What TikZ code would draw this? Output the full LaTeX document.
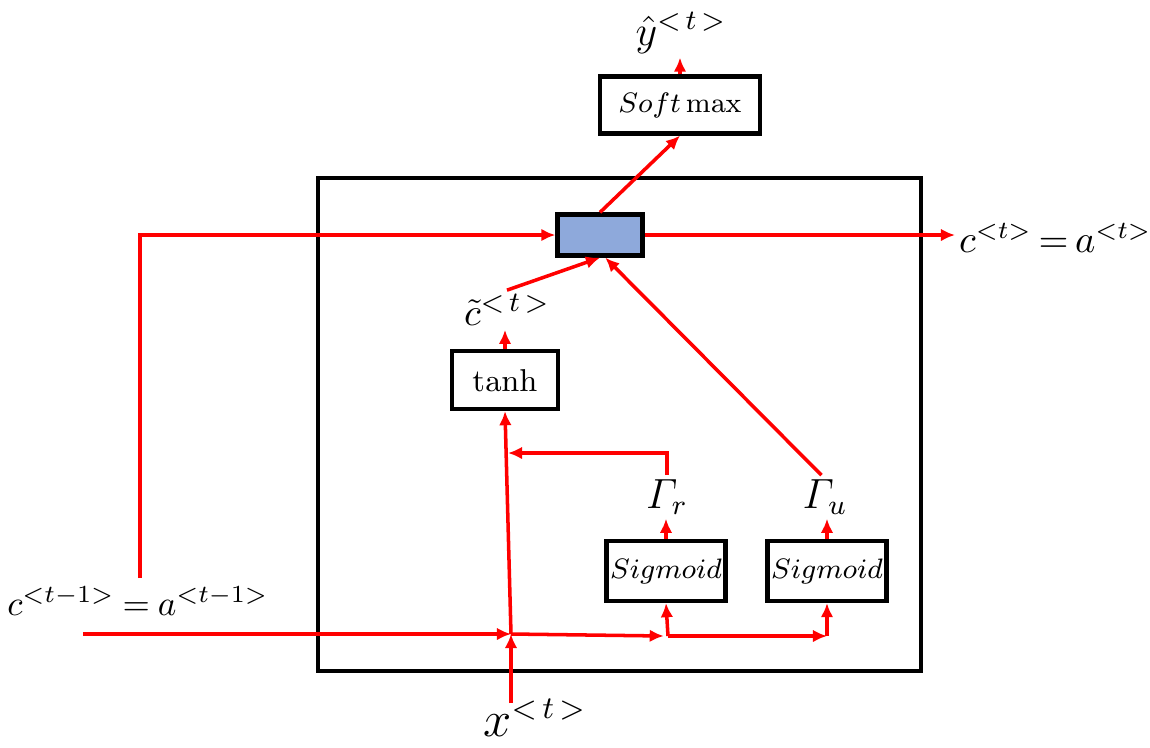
\documentclass[tikz,border=0pt]{standalone}
\usepackage{amsmath}
\usepackage{tikz}
\usetikzlibrary{arrows.meta}
\definecolor{mixblue}{RGB}{142,169,219}

\begin{document}
\begin{tikzpicture}[
    x=0.01cm, y=-0.01cm,
    box/.style={
        rectangle, draw=black, line width=1.2pt,
        fill=white, inner sep=0pt, align=center
    },
    smallbox/.style={box, font=\fontsize{7.6}{9}\selectfont},
    arrow/.style={-{Latex[length=4pt,width=3.6pt]}, line width=1pt, red},
    lbl/.style={inner sep=1pt, font=\fontsize{10.5}{13}\selectfont}
]
\useasboundingbox (0,0) rectangle (1150,747);

% cell frame
\draw[line width=1.2pt] (318,178) rectangle (921,671);

% blocks
\node[smallbox, minimum width=1.6cm, minimum height=0.57cm] (softmax) at (680,105) {$Soft\max$};
\node[box, fill=mixblue, minimum width=0.85cm, minimum height=0.41cm] (mix) at (600,235) {};
\node[box, minimum width=1.06cm, minimum height=0.58cm, font=\fontsize{9.5}{11}\selectfont] (tanh) at (505,380) {$\tanh$};
\node[smallbox, minimum width=1.19cm, minimum height=0.6cm] (sigr) at (666,571) {$Sigmoid$};
\node[smallbox, minimum width=1.19cm, minimum height=0.6cm] (sigu) at (827,571) {$Sigmoid$};

% labels
\node[lbl, font=\fontsize{11.5}{14}\selectfont] (yhat) at (681,33) {$\hat{y}^{<\,t\,>}$};
\node[lbl, font=\fontsize{11}{13}\selectfont] (ctilde) at (507,310) {$\tilde{c}^{<\,t\,>}$};
\node[lbl, font=\fontsize{12}{14}\selectfont] (gammar) at (667,497) {$\varGamma_r$};
\node[lbl, font=\fontsize{12}{14}\selectfont] (gammau) at (825,497) {$\varGamma_u$};
\node[lbl, anchor=west] (cout) at (955,238) {$c^{<t>}\mkern3mu{=}\mkern3mu a^{<t>}$};
\node[lbl, font=\fontsize{10}{12}\selectfont] (cprev) at (138,601) {$c^{<t-1>}\mkern4mu{=}\mkern4mu a^{<t-1>}$};
\node[lbl, font=\fontsize{13.5}{16}\selectfont] (xt) at (535,718) {$x^{<\,t\,>}$};

% junctions
\coordinate (cup) at (140,578);
\coordinate (cin) at (83,634);
\coordinate (jx) at (511,634);
\coordinate (xin) at (511,703);
\coordinate (jr) at (668,636);
\coordinate (rin) at (508,453);

% output side
\draw[arrow] (softmax.north) -- (yhat.south -| softmax.north);
\draw[arrow] (mix.north) -- (softmax.south);
\draw[arrow] (mix.east) -- (mix.east -| cout.west);
\draw[arrow] (cup) |- (mix.west);

% candidate and gates
\draw[arrow] (ctilde.north) -- (mix.south);
\draw[arrow] ([xshift=-1pt]gammau.north) -- ([xshift=1.5pt]mix.south);
\draw[arrow] (tanh.north) -- (tanh.north |- ctilde.south);
\draw[arrow] (sigr.north) -- (gammar.south -| sigr.north);
\draw[arrow] (sigu.north) -- (gammau.south -| sigu.north);
\draw[arrow] (gammar.north) |- (rin);

% inputs
\draw[arrow] (cin) -- (jx);
\draw[arrow] (xin) -- (jx);
\draw[arrow] (jx) -- (tanh.south);
\draw[arrow] (jx) -- ([xshift=-1.2pt]jr);
\draw[arrow] (jr) -- (sigr.south);
\draw[arrow] (jr) -- (jr -| sigu.south);
\draw[arrow] (jr -| sigu.south) -- (sigu.south);

\end{tikzpicture}
\end{document}
